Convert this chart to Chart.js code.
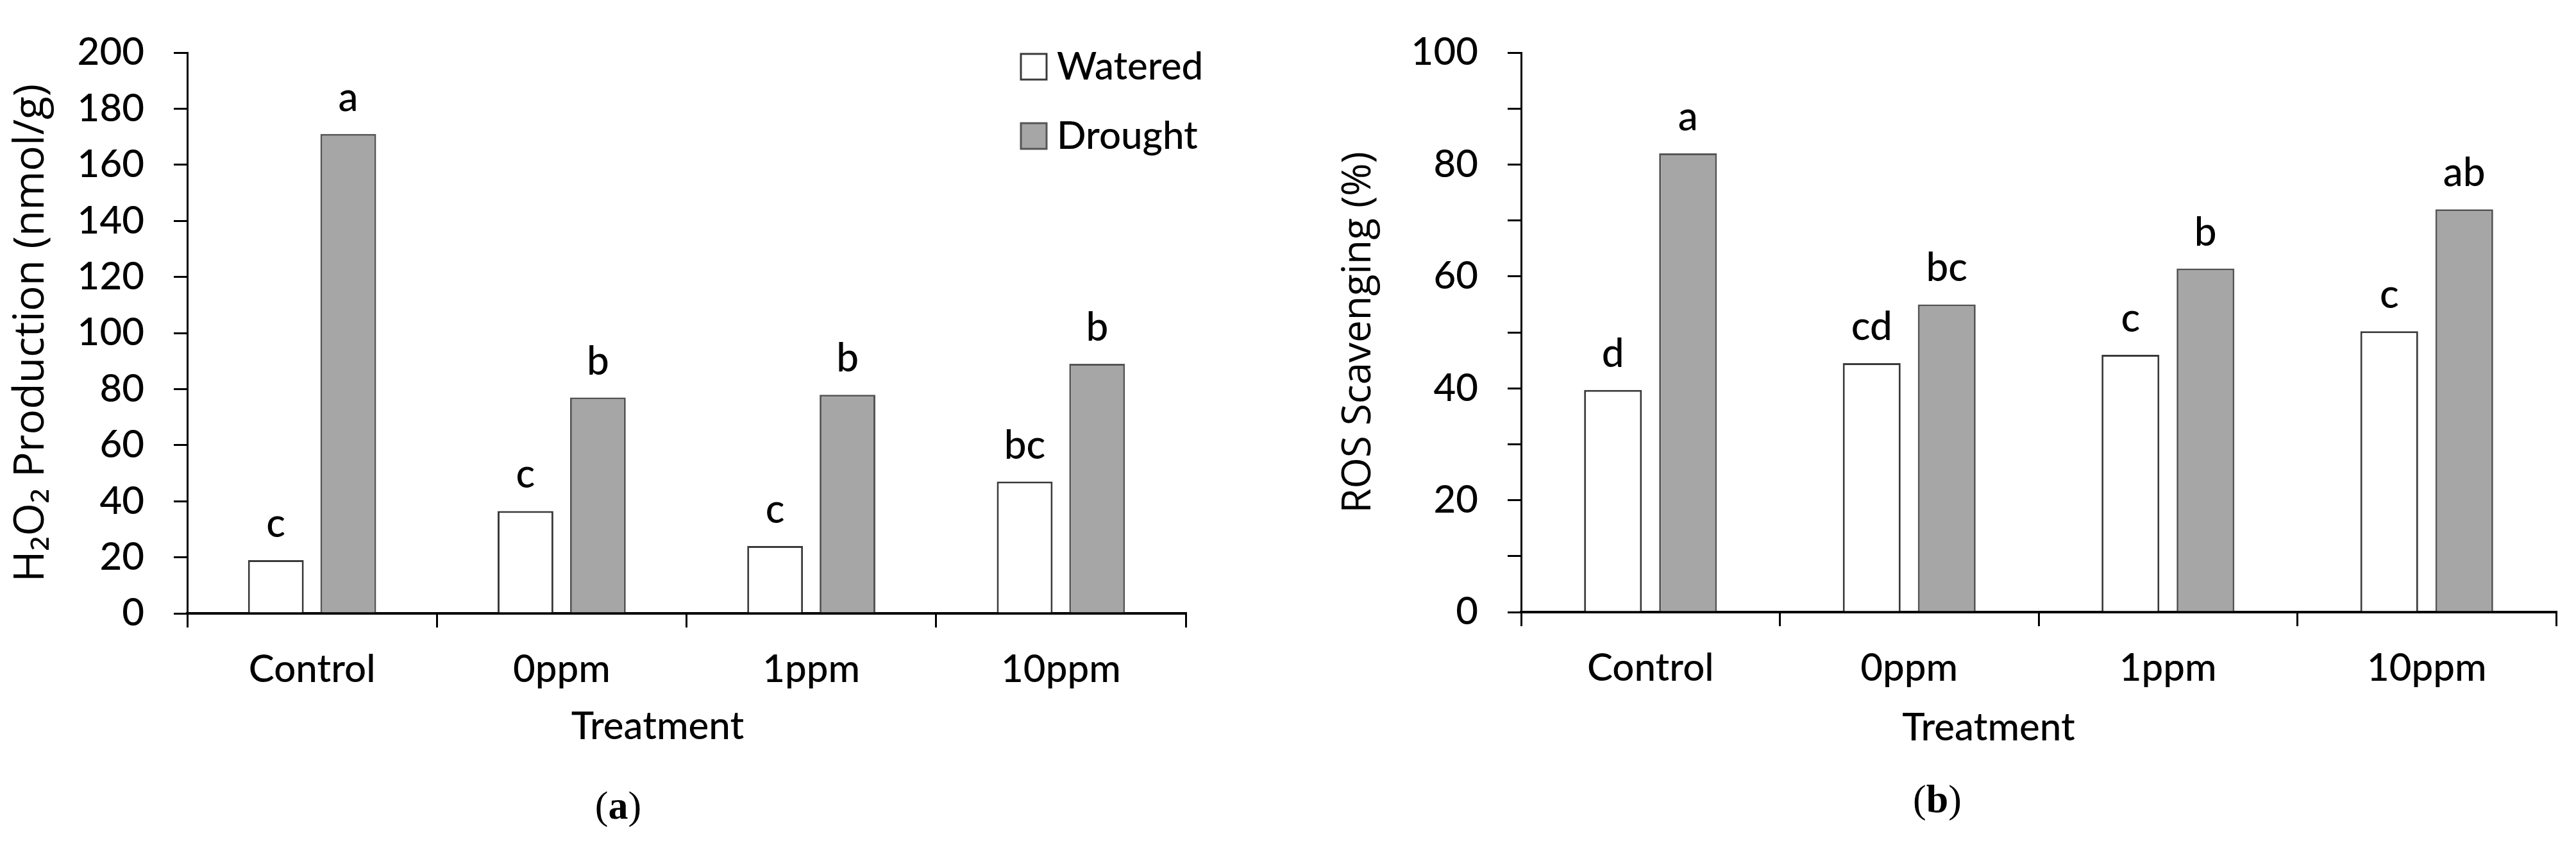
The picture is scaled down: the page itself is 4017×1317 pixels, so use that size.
<!DOCTYPE html>
<html>
<head>
<meta charset="utf-8">
<script src="https://cdn.jsdelivr.net/npm/chart.js@4.4.0/dist/chart.umd.min.js"></script>
<style>
  html, body { margin: 0; padding: 0; background: #fff; }
  body { width: 4017px; height: 1317px; position: relative; overflow: hidden; }
  canvas { position: absolute; top: 0; }
  #chartA { left: 0; }
  #chartB { left: 2008px; }
  .caption {
    position: absolute;
    font-family: "Liberation Serif", serif;
    font-size: 62px;
    transform: translate(-50%, -50%);
    white-space: nowrap;
  }
</style>
</head>
<body>
<canvas id="chartA" width="2008" height="1317"></canvas>
<canvas id="chartB" width="2009" height="1317"></canvas>
<div class="caption" style="left:964px; top:1255px">(<b>a</b>)</div>
<div class="caption" style="left:3021px; top:1245px">(<b>b</b>)</div>
<script>
  // --- Data ---
  const treatments = ["Control", "0ppm", "1ppm", "10ppm"];
  const seriesNames = ["Watered", "Drought"];

  // (a) H2O2 production, nmol/g
  const h2o2Watered = [19, 36.5, 24, 47];
  const h2o2Drought = [171, 77, 78, 89];
  const h2o2WateredLetters = ["c", "c", "c", "bc"];
  const h2o2DroughtLetters = ["a", "b", "b", "b"];

  // (b) ROS scavenging, %
  const rosWatered = [39.7, 44.5, 46, 50.2];
  const rosDrought = [82, 55, 61.4, 72];
  const rosWateredLetters = ["d", "cd", "c", "c"];
  const rosDroughtLetters = ["a", "bc", "b", "ab"];

  const labelFont = "Lato";
  const titleFont = "Open Sans";
  const labelWeight = 500;

  // significance letters above every bar
  const letterPlugin = {
    id: "letters",
    afterDatasetsDraw(chart, args, opts) {
      const ctx = chart.ctx;
      ctx.save();
      ctx.font = labelWeight + " " + opts.size + "px " + labelFont;
      ctx.fillStyle = "#000";
      ctx.textAlign = "center";
      ctx.textBaseline = "alphabetic";
      opts.sets.forEach((letters, di) => {
        chart.getDatasetMeta(di).data.forEach((bar, i) => {
          ctx.fillText(letters[i], bar.x, bar.y - opts.gap);
        });
      });
      ctx.restore();
    }
  };

  // square-box legend stacked in the top right corner
  const boxLegend = {
    id: "boxLegend",
    afterDraw(chart, args, opts) {
      if (!opts.show) return;
      const ctx = chart.ctx;
      const area = chart.chartArea;
      ctx.save();
      ctx.font = labelWeight + " " + opts.size + "px " + labelFont;
      ctx.textBaseline = "middle";
      chart.data.datasets.forEach((ds, i) => {
        const x = area.right + opts.dx;
        const y = area.top + opts.dy + i * opts.rowGap;
        ctx.fillStyle = ds.backgroundColor;
        ctx.strokeStyle = ds.borderColor;
        ctx.lineWidth = 3;
        ctx.fillRect(x, y, 40, 40);
        ctx.strokeRect(x, y, 40, 40);
        ctx.fillStyle = "#000";
        ctx.fillText(ds.label, x + 56, y + 21);
      });
      ctx.restore();
    }
  };

  // x axis title, centred a little left of the plot centre as in the figure
  const xTitle = {
    id: "xTitle",
    afterDraw(chart, args, opts) {
      const ctx = chart.ctx;
      const area = chart.chartArea;
      ctx.save();
      ctx.font = labelWeight + " " + opts.size + "px " + labelFont;
      ctx.fillStyle = "#000";
      ctx.textAlign = "center";
      ctx.textBaseline = "middle";
      ctx.fillText(opts.text, (area.left + area.right) / 2 + opts.dx, opts.y);
      ctx.restore();
    }
  };

  function makeChart(id, cfg) {
    return new Chart(document.getElementById(id), {
      type: "bar",
      data: {
        labels: treatments,
        datasets: [
          {
            label: seriesNames[0],
            data: cfg.watered,
            backgroundColor: "#ffffff",
            borderColor: "#3a3a3a",
            borderWidth: 3
          },
          {
            label: seriesNames[1],
            data: cfg.drought,
            backgroundColor: "#a6a6a6",
            borderColor: "#555555",
            borderWidth: 3
          }
        ]
      },
      options: {
        responsive: false,
        animation: false,
        devicePixelRatio: 1,
        layout: { padding: cfg.padding },
        datasets: { bar: { categoryPercentage: 0.58, barPercentage: 0.77 } },
        plugins: {
          legend: { display: false },
          tooltip: { enabled: false },
          letters: { sets: cfg.letters, size: 62, gap: 36 },
          boxLegend: { show: cfg.legend, size: 60, dx: -257, dy: 2, rowGap: 108 },
          xTitle: { text: "Treatment", size: 60, dx: cfg.titleDx, y: cfg.titleY }
        },
        scales: {
          x: {
            grid: {
              offset: true,
              drawOnChartArea: false,
              tickLength: 22,
              color: "#000",
              lineWidth: 3
            },
            border: { color: "#000", width: 4 },
            ticks: {
              color: "#000",
              font: { family: labelFont, size: 60, weight: labelWeight },
              padding: 30
            },
            afterFit(scale) { scale.height = 220; }
          },
          y: {
            min: 0,
            max: cfg.max,
            ticks: {
              stepSize: 10,
              color: "#000",
              font: { family: labelFont, size: 60, weight: labelWeight },
              padding: 46,
              callback: (v) => (v % 20 === 0 ? v : "")
            },
            grid: {
              drawOnChartArea: false,
              tickLength: 21,
              color: "#000",
              lineWidth: 3
            },
            border: { color: "#000", width: 3 },
            title: {
              display: true,
              text: cfg.yTitle,
              color: "#000",
              font: { family: titleFont, size: cfg.yTitleSize },
              padding: { top: cfg.titlePad, bottom: 0 }
            },
            afterFit(scale) { scale.width = cfg.yWidth; }
          }
        }
      },
      plugins: [letterPlugin, boxLegend, xTitle]
    });
  }

  Promise.all([
    document.fonts.load("500 60px Lato"),
    document.fonts.load("60px 'Open Sans'")
  ]).finally(() => {
    makeChart("chartA", {
      watered: h2o2Watered,
      drought: h2o2Drought,
      letters: [h2o2WateredLetters, h2o2DroughtLetters],
      max: 200,
      yTitle: "H\u2082O\u2082 Production (nmol/g)",
      yTitleSize: 66,
      titlePad: 10,
      yWidth: 292,
      legend: true,
      titleDx: -45,
      titleY: 1133,
      padding: { left: 0, top: 80, right: 159, bottom: 141 }
    });

    makeChart("chartB", {
      watered: rosWatered,
      drought: rosDrought,
      letters: [rosWateredLetters, rosDroughtLetters],
      max: 100,
      yTitle: "ROS Scavenging (%)",
      yTitleSize: 62,
      titlePad: 74,
      yWidth: 364,
      legend: false,
      titleDx: -78,
      titleY: 1135,
      padding: { left: 0, top: 78, right: 31, bottom: 143 }
    });
  });
</script>
</body>
</html>
